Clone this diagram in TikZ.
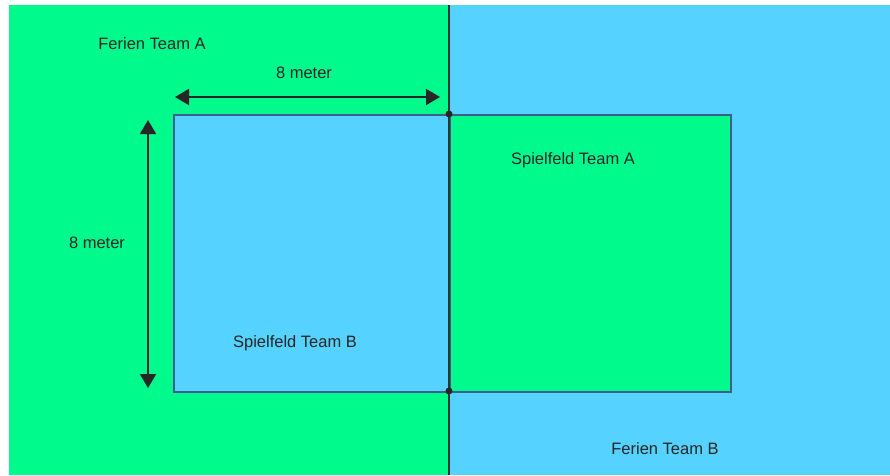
\documentclass[tikz,border=0pt]{standalone}
\usepackage{fontspec}
\setmainfont{Liberation Sans}
\usepackage{tikz}
\usetikzlibrary{arrows.meta,positioning,calc}
\definecolor{feldgruen}{HTML}{00FA8C}
\definecolor{feldblau}{HTML}{55D2FF}
\definecolor{randblau}{HTML}{3E5E8E}

\begin{document}
\begin{tikzpicture}[x=1pt,y=-1pt,
  feld/.style={rectangle,draw=randblau,line width=1.6pt,minimum height=277pt,
    inner sep=0pt,anchor=north west},
  lbl/.style={font=\fontsize{16.5}{20}\selectfont,inner sep=0pt,text=black!85},
  mass/.style={{Triangle[length=14pt,width=16pt]}-{Triangle[length=14pt,width=16pt]},line width=1.8pt,black!85},
]
  \useasboundingbox (0,0) rectangle (890,475);
  % Ferienbereiche
  \fill[feldgruen] (9,5) rectangle (449,475);
  \fill[feldblau] (449,5) rectangle (890,475);
  % Spielfelder
  \node[feld,fill=feldblau,minimum width=276pt] (spielB) at (173,114) {};
  \node[feld,fill=feldgruen,minimum width=281pt] (spielA) at (449,114) {};
  \draw[black!80,line width=2pt] (449,5) -- (449,475);
  \fill[black!85] (449,114) circle (3.5pt);
  \fill[black!85] (449,391) circle (3.5pt);
  % Masse
  \coordinate (hl) at (175,97);
  \coordinate (hr) at (440,97);
  \coordinate (vo) at (148,120);
  \coordinate (vu) at (148,388);
  \draw[mass] (hl) -- (hr);
  \draw[mass] (vo) -- (vu);
  % Beschriftungen
  \node[lbl] (ferienA) at (152,44) {Ferien Team A};
  \node[lbl] (massH) at (304,73) {8 meter};
  \node[lbl] (massV) at (97,243) {8 meter};
  \node[lbl] (labelA) at (573,160) {Spielfeld Team A};
  \node[lbl] (labelB) at (295,343) {Spielfeld Team B};
  \node[lbl] (ferienB) at (665,449) {Ferien Team B};
\end{tikzpicture}
\end{document}
